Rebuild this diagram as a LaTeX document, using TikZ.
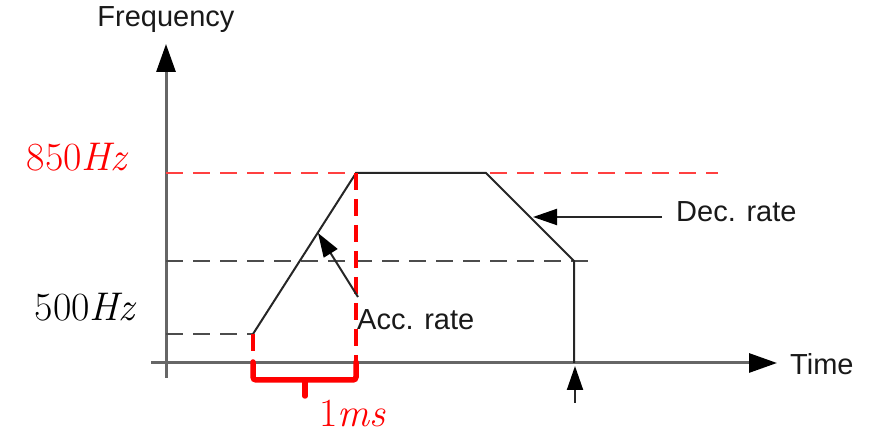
\documentclass[tikz,border=0pt]{standalone}
\usepackage{fontspec}
\newfontfamily\labelfont{Liberation Sans}
\usetikzlibrary{arrows.meta}

\begin{document}
\begin{tikzpicture}[x=1pt, y=-1pt,
        axis/.style={draw=black!60, line width=3pt, -{Triangle[length=28pt,width=19pt,color=black]}},
        profile/.style={draw=black!85, line width=2pt},
        guide/.style={draw=black!70, line width=2.8pt, dash pattern=on 17pt off 10pt},
        redguide/.style={draw=red!75, line width=2.8pt, dash pattern=on 17pt off 10pt},
        redmark/.style={draw=red, line width=4.5pt, dash pattern=on 17pt off 9pt},
        bracket/.style={draw=red, line width=5.5pt, line cap=round, rounded corners=3pt},
        pointer/.style={draw=black!85, line width=2pt, -{Triangle[length=24pt,width=16pt,color=black]}},
        lbl/.style={font=\labelfont\fontsize{29}{34}\selectfont, text=black!90, inner sep=0pt},
        val/.style={font=\fontsize{40}{48}\selectfont, inner sep=0pt}
    ]
        \useasboundingbox (0,0) rectangle (879,435);

        % axes
        \coordinate (ybot) at (166,378);
        \coordinate (ytop) at (166,44);
        \coordinate (xleft) at (151,363);
        \coordinate (xright) at (777,363);
        \draw[axis] (ybot) -- (ytop);
        \draw[axis] (xleft) -- (xright);

        % frequency profile
        \coordinate (start) at (253,334);
        \coordinate (accend) at (356,173);
        \coordinate (decstart) at (486,173);
        \coordinate (decend) at (574,261);
        \coordinate (stop) at (574,363);

        % level guides
        \coordinate (lvllow) at (166,334);
        \coordinate (lvlmid) at (166,261);
        \coordinate (lvlmidend) at (590,261);
        \coordinate (lvlhigh) at (166,173);
        \coordinate (lvlhighend) at (718,173);
        \draw[guide] (lvllow) -- (start);
        \draw[guide] (lvlmid) -- (lvlmidend);
        \draw[redguide] (lvlhigh) -- (lvlhighend);

        \draw[profile] (start) -- (accend) -- (decstart) -- (decend) -- (stop);

        % 1ms span
        \coordinate (spanleft) at (253,380);
        \coordinate (spanright) at (356,380);
        \coordinate (spanmid) at (305,380);
        \coordinate (spantick) at (305,396);
        \draw[redmark] (start) -- (spanleft);
        \draw[redmark] (accend) -- (spanright);
        \draw[bracket] (253,362) -- (spanleft) -- (spanright) -- (356,362);
        \draw[bracket] (spanmid) -- (spantick);

        \coordinate (stoptail) at (575,403);
        \coordinate (stoptip) at (575,366);
        \draw[pointer] (stoptail) -- (stoptip);

        % labels
        \node[lbl] (freq) at (166,20) {Frequency};
        \node[lbl, anchor=west] (time) at (790,364) {Time};
        \node[lbl, anchor=west] (dec) at (676,212) {Dec. rate};
        \node[lbl, anchor=west] (acc) at (357,320) {Acc. rate};
        \node[val, text=red] (high) at (78,157) {850\textit{Hz}};
        \node[val] (low) at (86,307) {500\textit{Hz}};
        \node[val, text=red] (span) at (353,413) {1\textit{ms}};

        \coordinate (acctail) at (358,297);
        \coordinate (acctip) at (318,233);
        \coordinate (dectail) at (662,217);
        \coordinate (dectip) at (533,217);
        \draw[pointer] (acctail) -- (acctip);
        \draw[pointer] (dectail) -- (dectip);
\end{tikzpicture}
\end{document}
